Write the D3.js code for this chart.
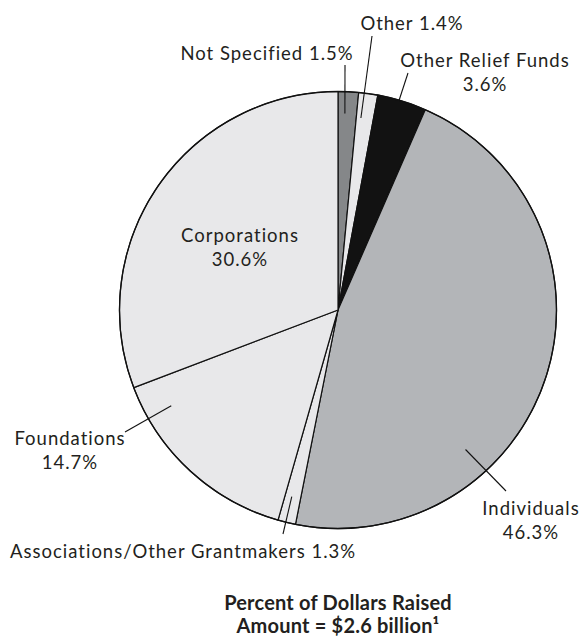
<!DOCTYPE html>
<html>
<head>
<meta charset="utf-8">
<script src="https://cdn.jsdelivr.net/npm/d3@7"></script>
<style>
  html, body { margin: 0; padding: 0; background: #fff; }
  svg text { font-family: Lato, "Open Sans", sans-serif; fill: #231f20; }
</style>
</head>
<body>
<svg id="chart" width="582" height="637"></svg>
<script>
// Sources of dollars raised, clockwise from 12 o'clock
const categories = ["Not Specified", "Other", "Other Relief Funds", "Individuals",
                    "Associations/Other Grantmakers", "Foundations", "Corporations"];
const shares = [1.5, 1.4, 3.6, 46.3, 1.3, 14.7, 30.6];
const shareLabels = ["1.5%", "1.4%", "3.6%", "46.3%", "1.3%", "14.7%", "30.6%"];
const titleLines = ["Percent of Dollars Raised", "Amount = $2.6 billion\u00B9"];

const fills = ["#858789", "#e8e8ea", "#121212", "#b3b5b8", "#e8e8ea", "#e8e8ea", "#e8e8ea"];

const svg = d3.select("#chart");
const cx = 338, cy = 310, R = 218.5;

const pie = d3.pie().sort(null).value(d => d);
const arcs = pie(shares);
const arc = d3.arc().innerRadius(0).outerRadius(R);

const g = svg.append("g").attr("transform", `translate(${cx},${cy})`);

g.selectAll("path.slice")
  .data(arcs)
  .join("path")
  .attr("class", "slice")
  .attr("d", arc)
  .attr("fill", (d, i) => fills[i])
  .attr("stroke", "#111")
  .attr("stroke-width", 1.2)
  .attr("stroke-linejoin", "round");

g.append("circle")
  .attr("r", R)
  .attr("fill", "none")
  .attr("stroke", "#111")
  .attr("stroke-width", 1.3);

// Point inside a slice: t = position across the slice's sweep, k = fraction of radius
function inside(d, t, k) {
  const a = d.startAngle + (d.endAngle - d.startAngle) * t;
  return [Math.sin(a) * R * k, -Math.cos(a) * R * k];
}

// Label layout: text lines, anchor point, leader line placement
const layout = [
  { lines: [categories[0] + " " + shareLabels[0]], x: 267, y: 60, lead: [0.37, 0.90], end: [345, 65] },
  { lines: [categories[1] + " " + shareLabels[1]], x: 412, y: 30, lead: [0.27, 0.885], end: [372, 36] },
  { lines: [categories[2], shareLabels[2]], x: 485, y: 67, lead: [0.44, 1.0], end: [408, 73] },
  { lines: [categories[3], shareLabels[3]], x: 531, y: 515, lead: [0.68, 0.865], end: [506, 491] },
  { lines: [categories[4] + " " + shareLabels[4]], x: 183, y: 558, lead: [0.57, 0.88], end: [283, 534] },
  { lines: [categories[5], shareLabels[5]], x: 70, y: 445, lead: [0.83, 0.88], end: [125, 432] },
  { lines: [categories[6], shareLabels[6]], x: 240, y: 242, lead: null }
];

layout.forEach((L, i) => {
  if (L.lead) {
    const p = inside(arcs[i], L.lead[0], L.lead[1]);
    svg.append("line")
      .attr("x1", cx + p[0]).attr("y1", cy + p[1])
      .attr("x2", L.end[0]).attr("y2", L.end[1])
      .attr("stroke", "#111")
      .attr("stroke-width", 1.1);
  }
  const t = svg.append("text")
    .attr("x", L.x).attr("y", L.y)
    .attr("text-anchor", "middle")
    .attr("font-size", 18.5)
    .attr("letter-spacing", 1.0);
  L.lines.forEach((s, j) => {
    t.append("tspan").attr("x", L.x).attr("dy", j === 0 ? 0 : 23.5).text(s);
  });
});

const title = svg.append("text")
  .attr("x", 338).attr("y", 610)
  .attr("text-anchor", "middle")
  .attr("font-size", 20)
  .attr("font-weight", "bold")
  .attr("letter-spacing", 0.2);
titleLines.forEach((s, j) => {
  title.append("tspan").attr("x", 338).attr("dy", j === 0 ? 0 : 23).text(s);
});
</script>
</body>
</html>
